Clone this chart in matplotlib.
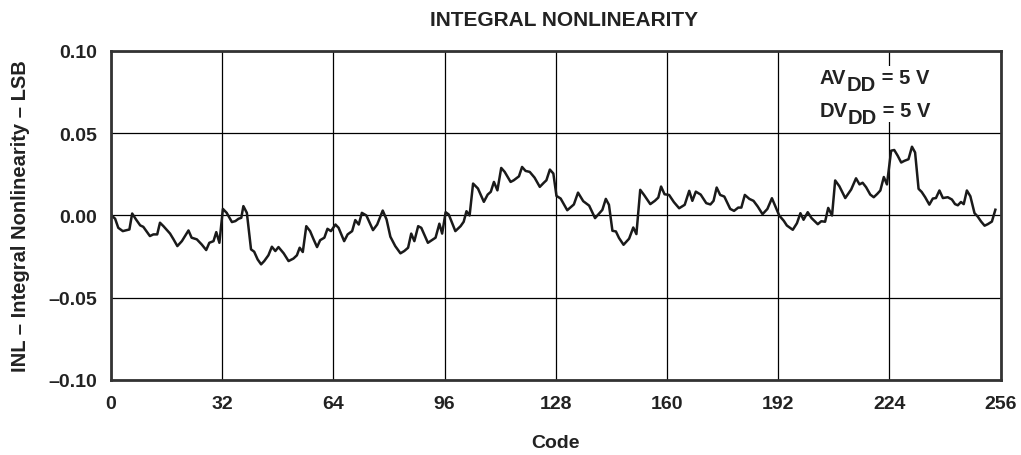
import matplotlib
matplotlib.use("Agg")
import matplotlib.pyplot as plt
from matplotlib.patches import Rectangle

plt.rcParams['font.family'] = ['Liberation Sans', 'DejaVu Sans']
plt.rcParams['font.weight'] = 'bold'

# data
code = [0.2, 1.2, 2.1, 3.4, 5.3, 6.1, 7.2, 8.4, 9.3, 11.2, 12.2, 13.3, 14.1, 15.1,
        17.0, 18.0, 19.1, 20.4, 22.3, 23.2, 24.7, 26.1, 27.4, 28.3, 29.5, 30.3,
        31.2, 32.2, 33.3, 34.8, 35.8, 36.7, 37.5, 38.1, 39.1, 40.3, 41.2, 42.2,
        43.2, 44.1, 45.3, 46.3, 47.3, 48.2, 49.7, 51.1, 52.5, 53.5, 54.3, 55.2,
        56.2, 57.3, 58.3, 59.3, 60.2, 61.4, 62.3, 63.3, 64.6, 65.5, 67.1, 68.1,
        69.4, 70.3, 71.3, 72.2, 73.5, 75.4, 76.6, 78.2, 79.3, 80.4, 81.8, 83.3,
        84.4, 85.5, 86.4, 87.3, 88.4, 89.3, 91.2, 93.4, 94.5, 95.3, 96.3, 97.2,
        99.1, 100.6, 101.5, 102.3, 103.2, 104.2, 105.6, 107.3, 108.4, 109.3,
        110.2, 111.2, 112.3, 113.3, 115.0, 115.9, 117.4, 118.3, 119.3, 120.5,
        121.9, 123.4, 124.6, 125.3, 126.3, 127.3, 128.2, 129.4, 131.3, 133.2,
        134.4, 135.9, 137.6, 139.3, 141.4, 142.4, 143.3, 144.3, 145.3, 146.2,
        147.5, 149.1, 150.3, 151.2, 152.3, 153.4, 155.2, 156.5, 157.5, 158.3,
        159.3, 160.6, 162.0, 163.5, 165.1, 166.4, 167.3, 168.3, 169.7, 171.3,
        172.5, 173.4, 174.3, 175.3, 176.5, 178.2, 179.3, 180.5, 181.4, 182.4,
        183.7, 184.9, 186.1, 187.5, 188.9, 190.2, 191.0, 192.3, 193.6, 194.5,
        196.2, 197.4, 198.4, 199.3, 200.5, 201.6, 203.4, 204.4, 205.5, 206.4,
        207.5, 208.4, 209.6, 211.3, 213.0, 214.4, 215.4, 216.3, 217.3, 218.5,
        219.5, 220.5, 221.4, 222.4, 223.3, 224.5, 225.4, 226.4, 227.4, 228.3,
        229.5, 230.5, 231.4, 232.4, 233.3, 234.3, 235.5, 236.5, 237.4, 238.4,
        239.4, 240.8, 242.0, 242.9, 243.7, 244.6, 245.4, 246.3, 247.3, 248.5,
        249.4, 250.4, 251.4, 252.3, 253.5, 254.5]
inl = [0.000, -0.002, -0.0075, -0.0095, -0.0085, 0.0012, -0.0024, -0.006, -0.0069,
       -0.0125, -0.0115, -0.0115, -0.0044, -0.0065, -0.011, -0.0145, -0.0186,
       -0.0156, -0.0091, -0.0135, -0.0145, -0.0176, -0.021, -0.0166, -0.0156,
       -0.0101, -0.0166, 0.004, 0.0016, -0.004, -0.0034, -0.002, -0.0014, 0.0057,
       0.0016, -0.0206, -0.022, -0.0267, -0.0297, -0.0277, -0.0242, -0.019,
       -0.0216, -0.0192, -0.023, -0.0277, -0.0262, -0.0242, -0.0196, -0.0222,
       -0.0065, -0.0095, -0.0145, -0.0192, -0.015, -0.0135, -0.0081, -0.0095,
       -0.0055, -0.0075, -0.0156, -0.0115, -0.0095, -0.0028, -0.0055, 0.0016,
       0.0, -0.0089, -0.0055, 0.003, -0.0024, -0.0129, -0.0186, -0.023, -0.0216,
       -0.0196, -0.011, -0.0156, -0.0065, -0.0075, -0.0166, -0.0135, -0.005,
       -0.011, 0.002, 0.0006, -0.0095, -0.0065, -0.0038, 0.0026, 0.0, 0.0194,
       0.0164, 0.0083, 0.0127, 0.0144, 0.0204, 0.0153, 0.0289, 0.0265, 0.0204,
       0.0214, 0.0238, 0.0295, 0.0271, 0.0265, 0.023, 0.0174, 0.02, 0.0214,
       0.0279, 0.0255, 0.0119, 0.0103, 0.0032, 0.0067, 0.0139, 0.0087, 0.006,
       -0.0016, 0.0034, 0.0101, 0.0065, -0.0093, -0.0097, -0.0137, -0.0178,
       -0.0141, -0.0073, -0.0113, 0.0156, 0.0125, 0.0069, 0.0089, 0.0109, 0.0176,
       0.0129, 0.0125, 0.0081, 0.0044, 0.0065, 0.015, 0.0089, 0.0145, 0.0127,
       0.0075, 0.0067, 0.0089, 0.017, 0.0125, 0.0115, 0.004, 0.0028, 0.0048,
       0.0048, 0.0125, 0.0101, 0.0089, 0.0055, 0.0008, 0.004, 0.0105, 0.0065,
       0.0, -0.0032, -0.0061, -0.0087, -0.0047, 0.0014, -0.0026, 0.002, -0.0016,
       -0.0053, -0.0035, -0.0038, 0.0046, 0.0, 0.0213, 0.0178, 0.0106, 0.0158,
       0.0226, 0.0189, 0.0199, 0.0172, 0.0127, 0.0111, 0.0131, 0.0152, 0.0234,
       0.0189, 0.0394, 0.0398, 0.0363, 0.0322, 0.0332, 0.0342, 0.0418, 0.0383,
       0.0162, 0.0143, 0.0111, 0.0066, 0.0103, 0.0106, 0.0152, 0.0106, 0.0111,
       0.0097, 0.0069, 0.0062, 0.0082, 0.0069, 0.0152, 0.0117, 0.0014, -0.0006,
       -0.0037, -0.0062, -0.0053, -0.0037, 0.0035]

xticks = [0, 32, 64, 96, 128, 160, 192, 224, 256]
yticks = [-0.10, -0.05, 0.00, 0.05, 0.10]
ylabels = ['\u20130.10', '\u20130.05', '0.00', '0.05', '0.10']

fig = plt.figure(figsize=(10.21, 4.56), dpi=100)
ax = fig.add_axes([0.1087, 0.1645, 0.8713, 0.7215])

ax.plot(code, inl, color='#1a1a1a', lw=1.8)

ax.set_xlim(0, 256)
ax.set_ylim(-0.10, 0.10)
ax.set_xticks(xticks)
ax.set_xticklabels([str(t) for t in xticks], fontsize=14, fontweight='bold')
ax.set_yticks(yticks)
ax.set_yticklabels(ylabels, fontsize=14, fontweight='bold')
ax.tick_params(axis='x', length=0, pad=11, colors='#222222')
ax.tick_params(axis='y', length=0, pad=10, colors='#222222')
ax.grid(True, color='black', lw=0.9)
for s in ax.spines.values():
    s.set_linewidth(2)
    s.set_color('#333333')

fig.text(564 / 1021, 1 - 20 / 456, 'INTEGRAL NONLINEARITY', fontsize=15,
         fontweight='bold', ha='center', va='center', color='#222222')
ax.set_xlabel('Code', fontsize=14, fontweight='bold', labelpad=16, color='#222222')
ax.set_ylabel('INL \u2013 Integral Nonlinearity \u2013 LSB', fontsize=14.5,
              fontweight='bold', labelpad=13, color='#222222')

# white patch behind the supply labels (grid line is cut there)
ax.add_patch(Rectangle((0.79, 0.784), 0.145, 0.17, transform=ax.transAxes,
                       facecolor='white', edgecolor='none', zorder=2.5))

# supply labels, subscript drawn at full size and dropped a few points
for yy, pre in [(0.903, 'AV'), (0.802, 'DV')]:
    t1 = ax.text(0.797, yy, pre, transform=ax.transAxes, fontsize=14.5,
                 fontweight='bold', color='#222222', va='baseline', zorder=3)
    t2 = ax.annotate('DD', xy=(1, 0), xycoords=t1, xytext=(0, -5),
                     textcoords='offset points', fontsize=14.5, fontweight='bold',
                     color='#222222', va='bottom', zorder=3)
    ax.annotate(' = 5 V', xy=(1, 0), xycoords=t2, xytext=(0, 5),
                textcoords='offset points', fontsize=14.5, fontweight='bold',
                color='#222222', va='bottom', zorder=3)

fig.savefig('out.png', dpi=100)
